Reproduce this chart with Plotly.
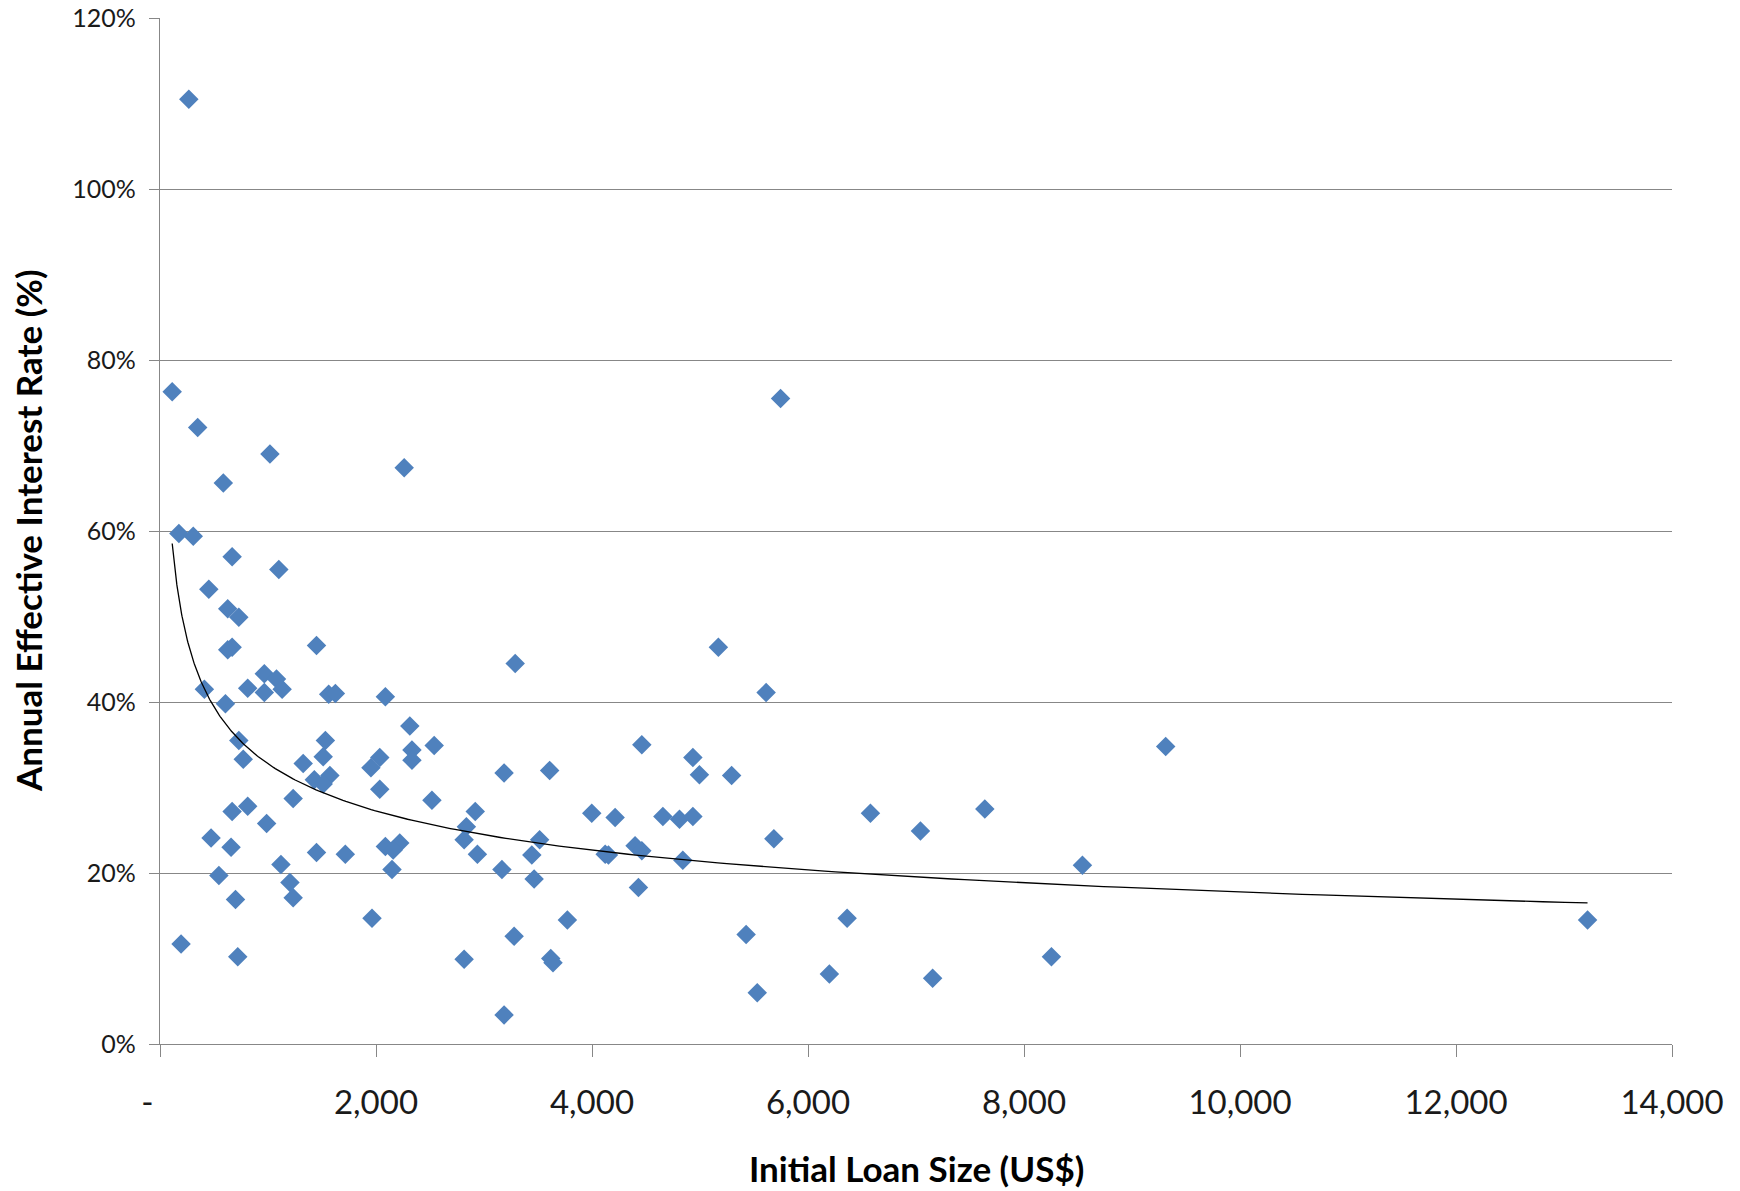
import numpy as np
import plotly.graph_objects as go

# Initial loan size (US$) and annual effective interest rate (%) per loan
loan_size = [
    267, 113, 349, 1018, 2261, 586, 5746, 175, 308, 668,
    1100, 452, 627, 730, 668, 627, 1449, 5170, 3289, 966,
    1079, 411, 812, 966, 1131, 1562, 1624, 2087, 5612, 606,
    2313, 1531, 730, 2539, 4461, 9312, 2333, 1511, 771, 2035,
    2333, 1326, 4934, 1953, 3608, 3186, 5293, 4995, 1573, 1429,
    1511, 2035, 1233, 2518, 812, 668, 2919, 3998, 6578, 7637,
    4214, 4656, 4810, 4934, 987, 2837, 7041, 473, 5684, 2816,
    3515, 2220, 2087, 658, 2159, 4399, 4461, 1449, 1716, 2939,
    3443, 4122, 4152, 4841, 1120, 8541, 545, 2148, 3166, 3464,
    1203, 4430, 699, 1233, 1963, 3772, 6362, 13218, 5427, 3279,
    195, 720, 8254, 2816, 3618, 3639, 6198, 7154, 5530, 3186,
]
interest_rate = [
    110.5, 76.3, 72.1, 69.0, 67.4, 65.6, 75.5, 59.7, 59.4, 57.0,
    55.5, 53.2, 50.9, 49.9, 46.4, 46.1, 46.6, 46.4, 44.5, 43.3,
    42.7, 41.5, 41.6, 41.1, 41.5, 40.9, 41.0, 40.6, 41.1, 39.8,
    37.2, 35.5, 35.5, 34.9, 35.0, 34.8, 34.4, 33.6, 33.3, 33.5,
    33.2, 32.8, 33.5, 32.3, 32.0, 31.7, 31.4, 31.5, 31.4, 30.9,
    30.4, 29.8, 28.7, 28.5, 27.8, 27.2, 27.2, 27.0, 27.0, 27.5,
    26.5, 26.6, 26.3, 26.6, 25.8, 25.4, 24.9, 24.1, 24.0, 23.9,
    23.9, 23.5, 23.1, 23.0, 22.7, 23.2, 22.6, 22.4, 22.2, 22.2,
    22.1, 22.2, 22.1, 21.5, 21.0, 20.9, 19.7, 20.4, 20.4, 19.3,
    18.9, 18.3, 16.9, 17.1, 14.7, 14.5, 14.7, 14.5, 12.8, 12.6,
    11.7, 10.2, 10.2, 9.9, 10.0, 9.5, 8.2, 7.7, 6.0, 3.4,
]

x_tick_values = [0, 2000, 4000, 6000, 8000, 10000, 12000, 14000]
# accounting-style zero: dash padded on the right
x_tick_labels = ["-\u00a0\u00a0\u00a0", "2,000", "4,000", "6,000", "8,000", "10,000", "12,000", "14,000"]
y_tick_values = [0, 20, 40, 60, 80, 100, 120]
y_tick_labels = ["0%", "20%", "40%", "60%", "80%", "100%", "120%"]

# Power trendline (least squares on log-log scale), spanning the data range
x_arr = np.array(loan_size, dtype=float)
y_arr = np.array(interest_rate, dtype=float)
slope, intercept = np.polyfit(np.log(x_arr), np.log(y_arr), 1)
trend_x = np.geomspace(x_arr.min(), x_arr.max(), 300)
trend_y = np.exp(intercept) * trend_x ** slope

GRID = "#878787"
FONT = "Lato, 'Open Sans', sans-serif"
TEXT = "#1a1a1a"

fig = go.Figure()
fig.add_trace(go.Scatter(
    x=loan_size, y=interest_rate, mode="markers",
    marker=dict(symbol="diamond", size=15, color="#4F81BD", line=dict(width=0)),
    showlegend=False,
))
fig.add_trace(go.Scatter(
    x=trend_x, y=trend_y, mode="lines",
    line=dict(color="#000000", width=1.3),
    showlegend=False,
))

fig.update_layout(
    width=1740, height=1191,
    margin=dict(l=160, r=68, t=18, b=147, autoexpand=False),
    paper_bgcolor="white", plot_bgcolor="white",
    font=dict(family=FONT, color=TEXT),
    xaxis=dict(
        range=[0, 14000], tickvals=x_tick_values, ticktext=x_tick_labels,
        showgrid=False, zeroline=False, automargin=False,
        showline=True, linecolor=GRID, linewidth=1.3,
        ticks="outside", ticklen=12, tickcolor=GRID, tickwidth=1.3,
        tickfont=dict(size=33, family=FONT, color=TEXT),
        ticklabelstandoff=17,
    ),
    yaxis=dict(
        range=[0, 120], tickvals=y_tick_values, ticktext=y_tick_labels,
        showgrid=True, gridcolor=GRID, gridwidth=1.3, zeroline=False, automargin=False,
        showline=True, linecolor=GRID, linewidth=1.3,
        ticks="outside", ticklen=10, tickcolor=GRID, tickwidth=1.3,
        tickfont=dict(size=25, family=FONT, color=TEXT),
        ticklabelstandoff=8,
    ),
    annotations=[
        dict(text="<b>Initial Loan Size (US$)</b>", xref="paper", yref="paper",
             x=0.5, y=-0.1209, xanchor="center", yanchor="middle", showarrow=False,
             font=dict(size=35, family=FONT, color="#000000")),
        dict(text="<b>Annual Effective Interest Rate (%)</b>", xref="paper", yref="paper",
             x=-0.0873, y=0.5, xanchor="center", yanchor="middle", textangle=-90,
             showarrow=False, font=dict(size=35, family=FONT, color="#000000")),
    ],
)

fig.write_html("out.html")
